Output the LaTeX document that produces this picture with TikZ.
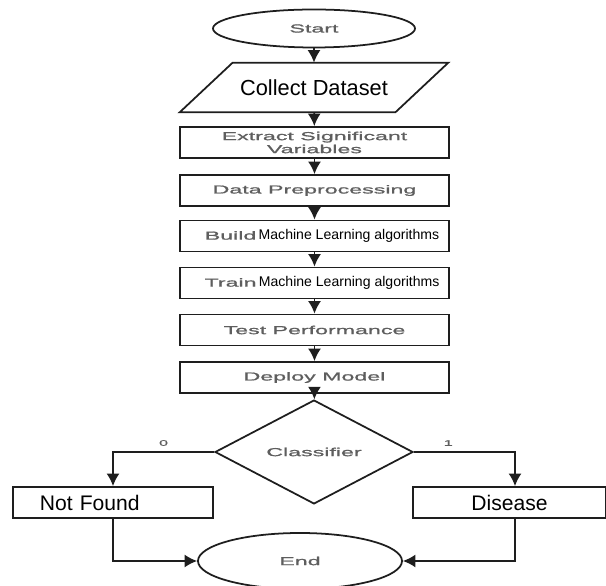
\documentclass[tikz,border=0pt]{standalone}
\usepackage{fontspec}
\setmainfont{Liberation Sans}
\newfontfamily\widefont[FakeStretch=2.0,FakeBold=1.2]{Liberation Sans}
\usetikzlibrary{arrows.meta,positioning,calc,shapes.geometric}
\definecolor{ink}{HTML}{1E1E1E}
\definecolor{greytext}{HTML}{5E5E5E}
\tikzset{
  widetext/.style={font=\widefont\fontsize{6.6}{7.4}\selectfont,text=greytext},
  procbox/.style={draw=ink,line width=1pt,minimum width=5.38cm,minimum height=0.62cm,
    inner sep=0pt,align=center,widetext},
  terminal/.style={draw=ink,line width=1pt,ellipse,inner sep=0pt,widetext},
  decision/.style={draw=ink,line width=1pt,diamond,inner sep=0pt,
    minimum width=3.96cm,minimum height=1.4cm,widetext},
  resultbox/.style={draw=ink,line width=1pt,minimum height=0.62cm,inner ysep=0pt,
    font=\fontsize{12}{14}\selectfont,text=black},
  flow/.style={draw=ink,line width=1pt,-{Latex[length=2.5mm,width=2.6mm]}},
  branchlabel/.style={font=\widefont\fontsize{4.6}{5}\selectfont,text=greytext,inner sep=3pt}
}
\newcommand{\mlalgo}{\normalfont\fontsize{8}{9}\selectfont\color{black}\,Machine Learning algorithms}

\begin{document}
\begin{tikzpicture}
  \useasboundingbox (0,0) rectangle (12.12,11.72);

  \node[terminal,minimum width=4.04cm,minimum height=0.76cm] (start) at (6.28,11.15) {Start};

  % input parallelogram
  \node[minimum width=4.3cm,minimum height=0.98cm,inner sep=0pt,
    font=\fontsize{12.4}{14}\selectfont] (collect) at (6.28,9.97) {Collect Dataset};
  \draw[ink,line width=1pt] ($(collect.south west)+(-0.53,0)$) -- ($(collect.south east)+(-0.53,0)$)
    -- ($(collect.north east)+(0.53,0)$) -- ($(collect.north west)+(0.53,0)$) -- cycle;

  \node[procbox] (extract) at (6.29,8.87) {Extract Significant\\Variables};
  \node[procbox] (prep) at (6.29,7.91) {Data Preprocessing};
  \node[procbox] (build) at (6.29,7.00) {\hspace{0.3cm}Build\mlalgo};
  \node[procbox] (train) at (6.29,6.06) {\hspace{0.3cm}Train\mlalgo};
  \node[procbox] (test) at (6.29,5.12) {Test Performance};
  \node[procbox] (deploy) at (6.29,4.17) {Deploy Model};

  \node[decision] (classifier) at (6.28,2.68) {Classifier};

  \node[resultbox,text width=2.92cm,inner xsep=0.54cm,align=left] (notfound) at (2.26,1.67) {Not Found};
  \node[resultbox,minimum width=3.86cm] (disease) at (10.19,1.67) {Disease};

  \node[terminal,minimum width=4.08cm,minimum height=1.12cm] (end) at (6.00,0.50) {End};

  \foreach \a/\b in {start/collect,collect/extract,extract/prep,prep/build,
                     build/train,train/test,test/deploy,deploy/classifier}
    \draw[flow] (\a) -- (\b);

  \draw[flow] (classifier.west) -| node[branchlabel,pos=0.25,above] {0} (notfound.north);
  \draw[flow] (classifier.east) -| node[branchlabel,pos=0.17,above] {1} ([xshift=0.11cm]disease.north);
  \draw[flow] (notfound.south) |- (end.west);
  \draw[flow] ([xshift=0.11cm]disease.south) |- (end.east);
\end{tikzpicture}
\end{document}
